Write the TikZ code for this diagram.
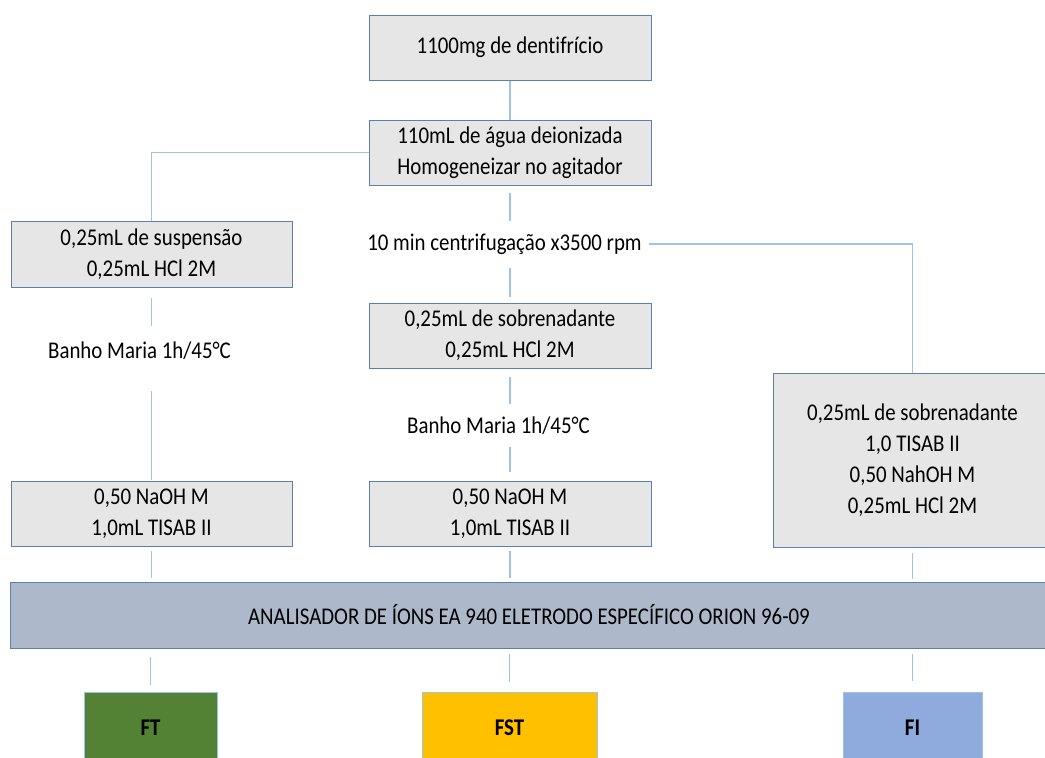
\documentclass[tikz,border=0pt]{standalone}
\usepackage{fontspec}
\setmainfont{Carlito}[FakeStretch=0.87,Ligatures=NoCommon]
\usetikzlibrary{positioning,calc}
\definecolor{boxgray}{HTML}{E7E6E6}
\definecolor{boxedge}{HTML}{5B7FAE}
\definecolor{wireblue}{HTML}{9DC3E6}
\definecolor{barblue}{HTML}{ADB9CA}
\definecolor{ftgreen}{HTML}{548235}
\definecolor{fstgold}{HTML}{FFC000}
\definecolor{fiblue}{HTML}{8FAADC}
\tikzset{
  stage/.style={draw=boxedge, fill=boxgray, line width=1pt, align=center,
    minimum width=282pt, minimum height=65pt, inner sep=0pt},
  freetext/.style={inner sep=0pt, text height=17pt, text depth=5pt},
  result/.style={draw=wireblue, line width=1pt, minimum height=72pt,
    font=\fontsize{24}{28}\selectfont\bfseries},
  wire/.style={draw=wireblue, line width=1.4pt},
}

\begin{document}
\begin{tikzpicture}[x=1pt,y=-1pt,font=\fontsize{24}{31}\selectfont]
\useasboundingbox (0,0) rectangle (1045,758);
\clip (0,0) rectangle (1045,758);
% preparo
\node[stage] (dent) at (510,47.5) {1100mg de dentifrício};
\node[stage] (agua) at (510,152.5) {110mL de água deionizada\\Homogeneizar no agitador};
% coluna esquerda
\node[stage, minimum width=281pt, minimum height=66pt] (susp) at (151.5,254) {0,25mL de suspensão\\0,25mL HCl 2M};
\node[freetext] (banhoA) at (139.5,352) {Banho Maria 1h/45°C};
\node[stage, minimum width=281pt] (naohA) at (151.5,513.5) {0,50 NaOH M\\1,0mL TISAB II};
% coluna central
\node[freetext] (centri) at (504.5,244) {10 min centrifugação x3500 rpm};
\node[stage] (sobre) at (510,335.5) {0,25mL de sobrenadante\\0,25mL HCl 2M};
\node[freetext] (banhoB) at (498.5,427) {Banho Maria 1h/45°C};
\node[stage] (naohB) at (510,513.5) {0,50 NaOH M\\1,0mL TISAB II};
% coluna direita
\node[stage, minimum width=279pt, minimum height=174pt] (sobreR) at (912.5,460) {0,25mL de sobrenadante\\1,0 TISAB II\\0,50 NahOH M\\0,25mL HCl 2M};
% analisador
\node[draw=boxedge, fill=barblue, line width=1pt, minimum width=1038pt, minimum height=66pt, inner sep=0pt] (bar) at (529,615) {ANALISADOR DE ÍONS EA 940 ELETRODO ESPECÍFICO ORION 96-09};
\node[result, fill=ftgreen, minimum width=133pt] (FT) at (150.5,728) {FT};
\node[result, fill=fstgold, minimum width=175pt] (FST) at (509.5,728) {FST};
\node[result, fill=fiblue, minimum width=139pt] (FI) at (912.5,728) {FI};

\draw[wire] (dent) -- (agua);
\draw[wire] (agua.west) -| (susp.north);
\draw[wire, shorten <=7pt, shorten >=12pt] (agua.south) -- (agua.south |- centri.north);
\draw[wire, shorten <=13pt, shorten >=6pt] (agua.south |- centri.south) -- (sobre.north);
\draw[wire, shorten <=8pt, shorten >=12pt] (sobre.south) -- (sobre.south |- banhoB.north);
\draw[wire, shorten <=9pt, shorten >=9pt] (sobre.south |- banhoB.south) -- (naohB.north);
\draw[wire, shorten <=4pt, shorten >=4pt] (naohB.south) -- (naohB.south |- bar.north);
\draw[wire, shorten <=5pt, shorten >=10pt] (FST.north |- bar.south) -- (FST.north);
\draw[wire, shorten <=10pt, shorten >=15pt] (susp.south) -- (susp.south |- banhoA.north);
\draw[wire, shorten <=28pt, shorten >=1pt] (susp.south |- banhoA.south) -- (naohA.north);
\draw[wire, shorten <=4pt, shorten >=4pt] (naohA.south) -- (naohA.south |- bar.north);
\draw[wire, shorten <=8pt, shorten >=7pt] (FT.north |- bar.south) -- (FT.north);
\draw[wire, shorten <=7pt] (centri.east) -| (sobreR.north);
\draw[wire, shorten <=5pt, shorten >=3pt] (sobreR.south) -- (sobreR.south |- bar.north);
\draw[wire, shorten <=5pt, shorten >=11pt] (FI.north |- bar.south) -- (FI.north);
\end{tikzpicture}
\end{document}
